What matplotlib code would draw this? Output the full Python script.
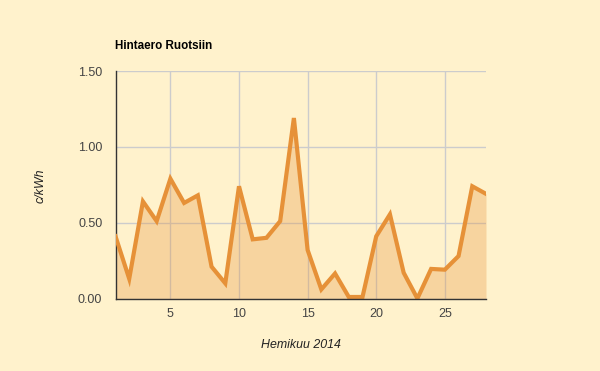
import numpy as np
import matplotlib
matplotlib.use('Agg')
import matplotlib.pyplot as plt

# Hintaero Ruotsiin, heinäkuu 2014
days = list(range(1, 29))
price = [0.41, 0.13, 0.64, 0.51, 0.79, 0.63, 0.68, 0.21, 0.10, 0.74,
         0.39, 0.40, 0.51, 1.19, 0.32, 0.06, 0.165, 0.01, 0.01, 0.41,
         0.555, 0.17, 0.0, 0.195, 0.19, 0.28, 0.74, 0.69]
xticks = [5, 10, 15, 20, 25]
yticks = [0.0, 0.5, 1.0, 1.5]

bg = '#fff2cc'
line_c = '#e69138'

plt.rcParams['font.family'] = ['Liberation Sans', 'DejaVu Sans']

fig = plt.figure(figsize=(6, 3.71), dpi=100, facecolor=bg)
ax = fig.add_axes([115.5 / 600, 1 - 298.5 / 371, 370.5 / 600, 227.5 / 371])
ax.set_facecolor(bg)

ax.fill_between(days, price, 0, color=line_c, alpha=0.3, lw=0, zorder=2)
ax.plot(days, price, color=line_c, lw=3, zorder=3, solid_joinstyle='miter')

ax.set_xlim(1, 28)
ax.set_ylim(0, 1.5)
ax.set_xticks(xticks)
ax.set_yticks(yticks)
ax.set_yticklabels(['%.2f' % v for v in yticks])
ax.grid(True, color='#cccccc', lw=1, zorder=1)
ax.set_axisbelow(True)

for s in ['top', 'right']:
    ax.spines[s].set_visible(False)
ax.spines['left'].set_color('#333333')
ax.spines['bottom'].set_color('#333333')
ax.spines['left'].set_linewidth(1)
ax.spines['bottom'].set_linewidth(1)
ax.spines['bottom'].set_zorder(4)
ax.tick_params(length=0, labelsize=9, colors='#444444')
ax.tick_params(axis='x', pad=6.5)
ax.tick_params(axis='y', pad=9.5)

fig.text(115 / 600, 1 - 46 / 371, 'Hintaero Ruotsiin', fontsize=8.4,
         fontweight='bold', color='black', va='center', ha='left')
fig.text(301 / 600, 1 - 345.5 / 371, 'Hemikuu 2014', fontsize=8.9,
         style='italic', color='#222222', ha='center', va='center')
fig.text(41 / 600, 1 - 186 / 371, 'c/kWh', fontsize=8.9, style='italic',
         color='#222222', rotation=90, ha='center', va='center')

fig.savefig('out.png', dpi=100, facecolor=bg)
